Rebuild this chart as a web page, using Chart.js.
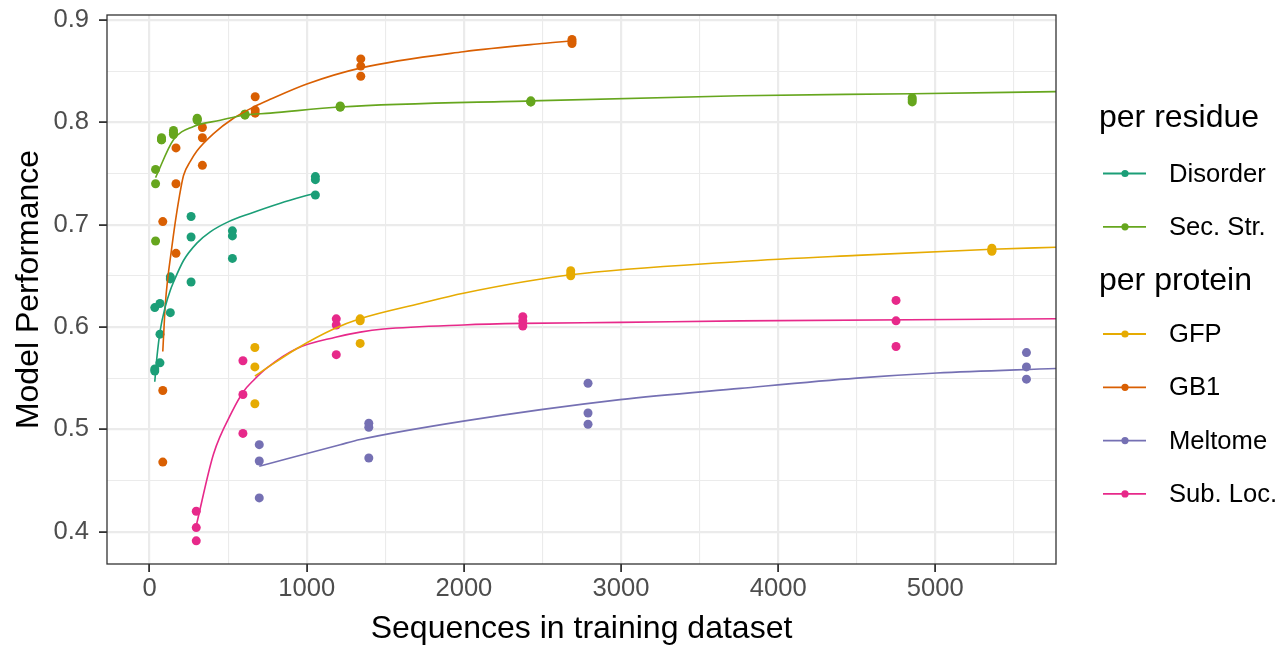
<!DOCTYPE html>
<html>
<head>
<meta charset="utf-8">
<script src="https://cdn.jsdelivr.net/npm/chart.js@4"></script>
<style>
  html, body { margin: 0; padding: 0; background: #fff; }
</style>
</head>
<body>
<canvas id="chart" width="1283" height="645"></canvas>
<script>
// Series names and colours (Dark2)
const residueSeries = ['Disorder', 'Sec. Str.'];
const proteinSeries = ['GFP', 'GB1', 'Meltome', 'Sub. Loc.'];
const seriesColors = {
  'Disorder': '#1B9E77',
  'Sec. Str.': '#66A61E',
  'GFP': '#E6AB02',
  'GB1': '#D95F02',
  'Meltome': '#7570B3',
  'Sub. Loc.': '#E7298A',
};

// Axis breaks
const xBreaks = [0, 1000, 2000, 3000, 4000, 5000];
const xMinorBreaks = [500, 1500, 2500, 3500, 4500, 5500];
const xTickLabels = ['0', '1000', '2000', '3000', '4000', '5000'];
const yBreaks = [0.4, 0.5, 0.6, 0.7, 0.8, 0.9];
const yMinorBreaks = [0.45, 0.55, 0.65, 0.75, 0.85];
const yTickLabels = ['0.4', '0.5', '0.6', '0.7', '0.8', '0.9'];

// Measured points (sequences, performance)
const disorderN = [33, 33, 33, 66, 66, 66, 132, 132, 132, 264, 264, 264, 527, 527, 527, 1055, 1055, 1055];
const disorderScore = [0.619, 0.559, 0.557, 0.623, 0.593, 0.565, 0.649, 0.647, 0.614, 0.708, 0.688, 0.644, 0.694, 0.689, 0.667, 0.747, 0.744, 0.729];

const secStrN = [38, 38, 38, 76, 76, 76, 152, 152, 152, 303, 303, 303, 607, 607, 607, 1213, 1213, 1213, 2426, 2426, 2426, 4853, 4853, 4853];
const secStrScore = [0.754, 0.740, 0.684, 0.785, 0.783, 0.783, 0.792, 0.788, 0.790, 0.803, 0.804, 0.802, 0.808, 0.808, 0.807, 0.816, 0.815, 0.815, 0.821, 0.820, 0.820, 0.824, 0.822, 0.820];

const gfpN = [670, 670, 670, 1340, 1340, 1340, 2680, 2680, 2680, 5360, 5360, 5360];
const gfpScore = [0.580, 0.561, 0.525, 0.608, 0.606, 0.584, 0.655, 0.652, 0.650, 0.677, 0.675, 0.674];

const gb1N = [84, 84, 84, 168, 168, 168, 336, 336, 336, 672, 672, 672, 1344, 1344, 1344, 2688, 2688, 2688];
const gb1Score = [0.703, 0.538, 0.468, 0.775, 0.740, 0.672, 0.795, 0.785, 0.758, 0.825, 0.812, 0.809, 0.862, 0.855, 0.845, 0.881, 0.879, 0.877];

const meltomeN = [698, 698, 698, 1395, 1395, 1395, 2790, 2790, 2790, 5580, 5580, 5580];
const meltomeScore = [0.485, 0.469, 0.433, 0.506, 0.502, 0.472, 0.545, 0.516, 0.505, 0.575, 0.561, 0.549];

const subLocN = [297, 297, 297, 594, 594, 594, 1188, 1188, 1188, 2375, 2375, 2375, 4750, 4750, 4750];
const subLocScore = [0.420, 0.404, 0.391, 0.567, 0.534, 0.496, 0.608, 0.602, 0.573, 0.610, 0.606, 0.601, 0.626, 0.606, 0.581];

// Fitted curves
const disorderFitN = [33, 47, 68, 100, 132, 150, 216, 301, 386, 503, 641, 832, 1055];
const disorderFitScore = [0.5465, 0.571, 0.597, 0.620, 0.636, 0.643, 0.665, 0.682, 0.693, 0.703, 0.711, 0.721, 0.731];

const secStrFitN = [38, 152, 280, 450, 598, 768, 1213, 2426, 3758, 4854, 5768];
const secStrFitScore = [0.746, 0.783, 0.796, 0.802, 0.807, 0.809, 0.815, 0.821, 0.826, 0.828, 0.830];

const gfpFitN = [670, 747, 938, 1171, 1338, 1722, 1997, 2680, 3758, 4500, 5359, 5768];
const gfpFitScore = [0.552, 0.560, 0.579, 0.598, 0.608, 0.623, 0.633, 0.651, 0.664, 0.670, 0.676, 0.678];

const gb1FitN = [84, 92, 100, 116, 132, 163, 190, 216, 260, 301, 407, 534, 662, 768, 1001, 1340, 1997, 2496, 2688];
const gb1FitScore = [0.576, 0.600, 0.622, 0.648, 0.667, 0.702, 0.728, 0.748, 0.762, 0.772, 0.789, 0.804, 0.815, 0.8225, 0.8375, 0.853, 0.869, 0.877, 0.8795];

const meltomeFitN = [698, 1213, 1340, 1997, 2994, 3758, 4500, 5009, 5768];
const meltomeFitScore = [0.464, 0.485, 0.490, 0.508, 0.529, 0.540, 0.550, 0.555, 0.5595];

const subLocFitN = [297, 407, 524, 598, 662, 747, 938, 1183, 1340, 1489, 1997, 2373, 2994, 3758, 5768];
const subLocFitScore = [0.406, 0.476, 0.517, 0.537, 0.548, 0.560, 0.579, 0.590, 0.595, 0.598, 0.602, 0.6035, 0.6045, 0.606, 0.608];

const FONT = '"Liberation Sans", Arial, Helvetica, sans-serif';
Chart.defaults.font.family = FONT;

// zip two arrays into {x, y}
const toXY = (xs, ys) => xs.map((x, i) => ({ x, y: ys[i] }));

const pointSet = (name, xs, ys) => ({
  label: name,
  data: toXY(xs, ys),
  showLine: false,
  pointRadius: 4.5,
  pointHoverRadius: 4.5,
  pointBorderWidth: 0,
  backgroundColor: seriesColors[name],
  borderColor: seriesColors[name],
});

const lineSet = (name, xs, ys) => ({
  label: name + ' fit',
  data: toXY(xs, ys),
  showLine: true,
  pointRadius: 0,
  borderWidth: 1.6,
  borderColor: seriesColors[name],
  cubicInterpolationMode: 'monotone',
  fill: false,
});

const near = (a, b) => Math.abs(a - b) < 1e-6;
const isMajor = (list, v) => list.some((b) => near(b, v));
const labelFor = (breaks, labels, v) => {
  const i = breaks.findIndex((b) => near(b, v));
  return i >= 0 ? labels[i] : '';
};

// Panel border + two-group legend
const panelAndLegend = {
  id: 'panelAndLegend',
  afterDraw(chart) {
    const { ctx, chartArea: a } = chart;
    ctx.save();
    ctx.strokeStyle = '#333333';
    ctx.lineWidth = 1.3;
    ctx.strokeRect(a.left, a.top, a.right - a.left, a.bottom - a.top);

    const drawKey = (name, y) => {
      const c = seriesColors[name];
      ctx.strokeStyle = c;
      ctx.lineWidth = 1.8;
      ctx.beginPath();
      ctx.moveTo(1103, y);
      ctx.lineTo(1146, y);
      ctx.stroke();
      ctx.fillStyle = c;
      ctx.beginPath();
      ctx.arc(1125, y, 3.6, 0, Math.PI * 2);
      ctx.fill();
      ctx.fillStyle = '#000';
      ctx.font = '25.6px ' + FONT;
      ctx.textBaseline = 'middle';
      ctx.textAlign = 'left';
      ctx.fillText(name, 1169, y + 1);
    };

    ctx.fillStyle = '#000';
    ctx.font = '32px ' + FONT;
    ctx.textBaseline = 'alphabetic';
    ctx.textAlign = 'left';
    ctx.fillText('per residue', 1099, 127);
    residueSeries.forEach((n, i) => drawKey(n, 173.5 + i * 53.3));

    ctx.fillStyle = '#000';
    ctx.font = '32px ' + FONT;
    ctx.textBaseline = 'alphabetic';
    ctx.fillText('per protein', 1099, 290);
    proteinSeries.forEach((n, i) => drawKey(n, 334 + i * 53.3));
    ctx.restore();
  },
};

new Chart(document.getElementById('chart'), {
  type: 'scatter',
  data: {
    datasets: [
      lineSet('Disorder', disorderFitN, disorderFitScore),
      lineSet('Sec. Str.', secStrFitN, secStrFitScore),
      lineSet('GFP', gfpFitN, gfpFitScore),
      lineSet('GB1', gb1FitN, gb1FitScore),
      lineSet('Meltome', meltomeFitN, meltomeFitScore),
      lineSet('Sub. Loc.', subLocFitN, subLocFitScore),
      pointSet('Sub. Loc.', subLocN, subLocScore),
      pointSet('Meltome', meltomeN, meltomeScore),
      pointSet('GB1', gb1N, gb1Score),
      pointSet('GFP', gfpN, gfpScore),
      pointSet('Sec. Str.', secStrN, secStrScore),
      pointSet('Disorder', disorderN, disorderScore),
    ],
  },
  options: {
    responsive: false,
    animation: false,
    devicePixelRatio: 1,
    layout: { padding: { top: 15, right: 227, bottom: 0, left: 0 } },
    plugins: {
      legend: { display: false },
      tooltip: { enabled: false },
    },
    scales: {
      x: {
        type: 'linear',
        min: -271,
        max: 5768,
        afterBuildTicks: (s) => {
          s.ticks = [...xBreaks, ...xMinorBreaks].sort((p, q) => p - q).map((v) => ({ value: v }));
        },
        afterFit: (s) => {
          s.height = 81;
          s.paddingLeft = 0;
          s.paddingRight = 0;
        },
        border: { display: false },
        grid: {
          color: '#EBEBEB',
          lineWidth: (c) => (c.tick && isMajor(xBreaks, c.tick.value) ? 2.2 : 1.1),
          tickLength: 8,
          tickWidth: 1.8,
          tickColor: (c) => (c.tick && isMajor(xBreaks, c.tick.value) ? '#333333' : 'rgba(0,0,0,0)'),
        },
        ticks: {
          autoSkip: false,
          maxRotation: 0,
          padding: 2,
          color: '#4D4D4D',
          font: { size: 25.6 },
          callback: (v) => labelFor(xBreaks, xTickLabels, v),
        },
        title: {
          display: true,
          text: 'Sequences in training dataset',
          color: '#000',
          font: { size: 32, lineHeight: 1 },
          padding: { top: 0, bottom: 0 },
        },
      },
      y: {
        type: 'linear',
        min: 0.3684,
        max: 0.9049,
        afterBuildTicks: (s) => {
          s.ticks = [...yBreaks, ...yMinorBreaks].sort((p, q) => p - q).map((v) => ({ value: v }));
        },
        afterFit: (s) => {
          s.width = 107;
          s.paddingTop = 0;
          s.paddingBottom = 0;
        },
        border: { display: false },
        grid: {
          color: '#EBEBEB',
          lineWidth: (c) => (c.tick && isMajor(yBreaks, c.tick.value) ? 2.2 : 1.1),
          tickLength: 8,
          tickWidth: 1.8,
          tickColor: (c) => (c.tick && isMajor(yBreaks, c.tick.value) ? '#333333' : 'rgba(0,0,0,0)'),
        },
        ticks: {
          autoSkip: false,
          padding: 10,
          color: '#4D4D4D',
          font: { size: 25.6 },
          callback: (v) => labelFor(yBreaks, yTickLabels, v),
        },
        title: {
          display: true,
          text: 'Model Performance',
          color: '#000',
          font: { size: 32, lineHeight: 1 },
          padding: { top: 13, bottom: 0 },
        },
      },
    },
  },
  plugins: [panelAndLegend],
});
</script>
</body>
</html>
